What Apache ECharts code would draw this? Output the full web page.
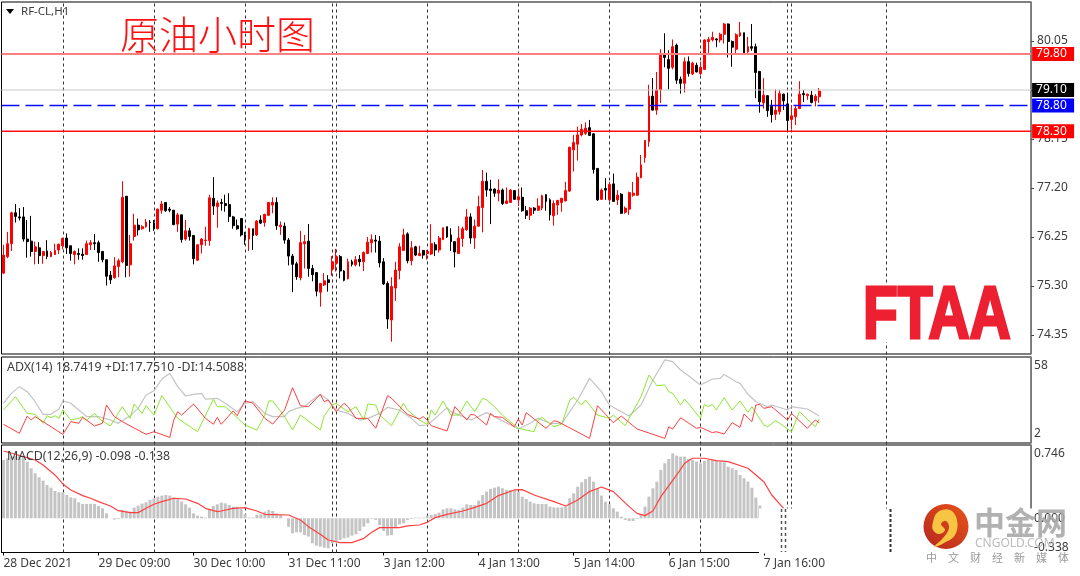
<!DOCTYPE html>
<html><head><meta charset="utf-8">
<style>html,body{margin:0;padding:0;background:#fff}#c{width:1080px;height:576px}</style>
<script src="https://cdn.jsdelivr.net/npm/echarts@6/dist/echarts.min.js"></script>
</head><body><div id="c"></div>
<script>
// each row: [open, close, low, high]
const candles = [
[75.55,75.90,75.53,76.10],[75.87,76.12,75.84,76.35],[76.12,76.72,75.98,76.74],[76.72,76.65,76.53,76.89],[76.64,76.62,76.57,76.81],
[76.64,76.21,76.16,76.83],[76.21,76.16,75.85,76.58],[76.17,75.97,75.87,76.66],[75.97,76.06,75.72,76.16],[76.04,75.89,75.73,76.15],
[75.89,75.97,75.73,75.98],[75.98,75.87,75.82,76.19],[75.87,75.95,75.86,75.98],[75.91,75.99,75.90,76.12],[76.00,76.11,75.92,76.12],
[76.08,76.22,76.01,76.24],[76.23,76.04,75.92,76.32],[76.08,75.93,75.79,76.08],[75.91,75.97,75.72,75.99],[75.93,75.91,75.81,76.03],
[75.92,75.89,75.81,76.03],[75.91,76.12,75.90,76.18],[76.10,76.14,76.00,76.19],[76.14,76.12,76.00,76.31],[76.14,75.95,75.77,76.18],
[75.97,75.81,75.76,75.98],[75.81,75.49,75.31,75.81],[75.51,75.42,75.34,75.59],[75.46,75.69,75.44,75.86],[75.68,75.79,75.47,75.83],
[75.77,77.02,75.74,77.33],[77.04,75.70,75.47,77.04],[75.71,76.12,75.48,76.29],[76.26,76.48,76.18,76.70],[76.48,76.39,76.28,76.61],
[76.41,76.45,76.39,76.48],[76.45,76.54,76.43,76.60],[76.54,76.53,76.35,76.58],[76.52,76.41,76.37,76.58],[76.41,76.79,76.40,76.80],
[76.77,76.89,76.70,76.95],[76.92,76.76,76.74,76.92],[76.79,76.77,76.73,76.83],[76.77,76.49,76.48,76.77],[76.50,76.68,76.35,76.72],
[76.68,76.20,76.14,76.68],[76.21,76.37,76.18,76.58],[76.37,76.26,76.18,76.43],[76.28,75.83,75.72,76.29],[75.80,76.10,75.79,76.10],
[76.10,76.21,75.93,76.23],[76.18,76.19,76.08,76.45],[76.18,77.01,76.08,77.07],[77.00,76.85,76.68,77.41],[76.84,76.91,76.43,76.96],
[76.92,76.90,76.76,76.99],[76.90,76.86,76.74,77.07],[76.88,76.65,76.54,77.10],[76.64,76.47,76.41,76.66],[76.47,76.41,76.39,76.59],
[76.61,76.29,76.26,76.61],[76.29,76.23,76.10,76.35],[76.21,76.41,75.98,76.43],[76.41,76.28,76.00,76.41],[76.29,76.56,76.27,76.58],
[76.58,76.52,76.50,76.67],[76.53,76.69,76.45,76.70],[76.67,76.92,76.67,76.92],[76.87,76.92,76.71,77.02],[76.92,76.47,76.39,77.02],
[76.45,76.48,76.29,76.55],[76.46,76.19,76.12,76.53],[76.19,75.88,75.70,76.23],[75.88,75.72,75.18,75.92],[75.73,75.48,75.42,75.77],
[75.46,76.14,75.41,76.37],[76.12,76.16,75.64,76.29],[76.17,75.64,75.48,76.50],[75.64,75.52,75.39,75.71],[75.56,75.20,75.10,75.56],
[75.18,75.35,74.90,75.35],[75.32,75.40,75.30,75.55],[75.42,75.37,75.19,75.51],[75.63,75.77,75.50,75.88],[75.74,75.87,75.58,76.02],
[75.87,75.59,75.45,75.90],[75.59,75.41,75.39,75.61],[75.44,75.77,75.43,75.83],[75.77,75.72,75.68,75.81],[75.71,75.81,75.68,75.88],
[75.82,75.77,75.68,75.90],[75.77,75.95,75.59,75.97],[75.93,76.15,75.92,76.25],[76.14,76.20,75.95,76.30],[76.19,76.17,75.95,76.29],
[76.17,75.75,75.66,76.27],[75.77,75.34,75.32,75.84],[75.35,74.66,74.47,75.39],[74.64,75.29,74.22,75.47],[75.26,75.61,75.01,75.77],
[75.60,76.06,75.43,76.13],[75.99,76.29,75.98,76.41],[76.31,75.79,75.74,76.34],[75.79,76.04,75.70,76.17],[76.06,75.90,75.88,76.08],
[75.89,75.93,75.88,76.08],[75.99,75.90,75.83,76.00],[75.93,75.97,75.81,76.00],[75.92,76.12,75.90,76.50],[76.10,76.00,75.88,76.15],
[76.00,76.23,75.95,76.27],[76.20,76.43,76.19,76.43],[76.45,76.25,76.23,76.45],[76.29,76.16,75.98,76.42],[76.16,75.96,75.66,76.16],
[75.93,76.23,75.92,76.46],[76.22,76.41,76.06,76.45],[76.39,76.64,76.37,76.79],[76.64,76.23,76.12,76.71],[76.23,76.46,76.02,76.59],
[76.46,76.84,76.45,77.05],[76.82,77.33,76.34,77.55],[77.33,77.16,77.03,77.50],[77.18,77.15,76.50,77.36],[77.18,77.10,77.03,77.19],
[77.10,77.16,76.94,77.37],[77.16,76.90,76.87,77.19],[76.90,76.95,76.90,77.21],[76.92,77.16,76.92,77.18],[77.15,76.98,76.97,77.16],
[76.97,77.03,76.85,77.19],[77.02,76.76,76.74,77.21],[76.76,76.67,76.60,76.85],[76.67,76.81,76.58,76.83],[76.81,76.77,76.70,76.83],
[76.77,76.85,76.76,77.00],[76.81,77.05,76.77,77.07],[77.07,76.94,76.76,77.08],[76.97,76.68,76.57,77.00],[76.66,76.90,76.47,76.96],
[76.87,76.96,76.68,76.97],[76.92,77.00,76.74,77.01],[76.95,77.15,76.94,77.32],[77.14,77.99,77.13,78.00],[77.94,78.08,77.52,78.23],
[78.05,78.23,77.73,78.39],[78.23,78.34,78.20,78.44],[78.26,78.36,78.23,78.47],[78.37,78.22,78.21,78.52],[78.25,77.56,77.48,78.26],
[77.58,76.97,76.95,77.58],[76.98,77.16,76.97,77.19],[77.19,77.16,76.97,77.39],[76.97,77.27,76.94,77.32],[77.28,76.94,76.94,77.48],
[76.97,77.06,76.87,77.16],[77.08,76.71,76.70,77.10],[76.73,76.81,76.70,76.84],[76.79,77.11,76.68,77.13],[77.06,77.10,77.03,77.32],
[77.06,77.41,77.05,77.50],[77.40,77.65,77.39,77.84],[77.79,78.12,77.69,78.13],[78.10,78.98,78.00,79.20],[78.98,78.71,78.70,79.33],
[78.71,79.10,78.62,79.45],[79.10,79.81,78.85,79.89],[79.81,79.73,79.54,80.20],[79.69,79.52,79.11,79.87],[79.54,79.94,79.50,80.08],
[79.97,79.29,79.22,80.00],[79.31,79.23,79.03,79.36],[79.23,79.65,79.05,79.73],[79.65,79.42,79.36,79.75],[79.41,79.62,79.39,79.65],
[79.58,79.45,79.44,79.63],[79.42,79.54,79.39,79.65],[79.50,80.07,79.49,80.08],[80.04,80.08,79.81,80.13],[80.07,80.12,80.04,80.23],
[80.09,80.07,79.93,80.10],[80.07,80.18,80.02,80.21],[80.18,80.38,80.00,80.40],[80.38,80.04,79.73,80.39],[80.04,79.93,79.55,80.06],
[79.89,80.17,79.81,80.20],[80.15,80.21,80.13,80.42],[80.21,79.82,79.81,80.21],[79.84,79.94,79.82,80.13],[79.94,79.91,79.86,80.38],
[79.94,79.44,78.94,80.00],[79.46,78.87,78.66,79.47],[78.85,79.00,78.74,79.33],[78.99,78.70,78.58,79.00],[78.78,78.62,78.47,78.91],
[78.63,78.71,78.52,79.11],[78.68,79.03,78.62,79.10],[79.02,78.89,78.71,79.03],[78.83,78.51,78.31,79.05],[78.53,78.60,78.34,78.81],
[78.58,78.74,78.42,78.81],[78.74,79.02,78.73,79.27],[79.03,79.01,78.87,79.10],[78.99,79.02,78.91,79.03],[79.00,78.86,78.84,79.08],
[78.89,78.98,78.78,79.02],[78.97,79.08,78.85,79.14]
];
const tickLabels = ['28 Dec 2021','29 Dec 09:00','30 Dec 10:00','31 Dec 11:00','3 Jan 12:00','4 Jan 13:00','5 Jan 14:00','6 Jan 15:00','7 Jan 16:00'];
const priceTicks = [80.05,79.10,78.15,77.20,76.25,75.30,74.35];
const adxTicks = [58,2];
const macdTicks = [0.746,0,-0.338];
const separators = [15,38,61,83,84,107,130,153,176,198,199,223];
const adxLine = [[0,27.3],[2,35.5],[4,41],[6,36.9],[8,28.6],[10,18.2],[12,18.2],[14,22.6],[15,29.4],[17,27.3],[19,21.8],[21,16.3],[24,16.3],[27,13.5],[29,10.8],[32,17.1],[34,23.1],[36,34.1],[38,37.7],[40,47.3],[42,52],[44,41],[46,33.3],[48,34.7],[50,35.5],[51,30.8],[54,31.4],[56,27.3],[59,20.4],[61,27.3],[63,28.6],[66,19],[68,16.3],[71,16.3],[72,20.4],[74,23.1],[76,24.5],[78,30],[80,34.7],[82,30],[84,21.8],[87,19],[90,13.5],[92,14.9],[95,19],[97,24],[100,21.8],[103,14.9],[105,8.9],[107,9.4],[109,14.9],[112,23.7],[113,20.4],[116,16.3],[118,13.5],[122,19.6],[124,16.3],[128,9.4],[130,6.1],[133,10.8],[135,14.9],[138,10.8],[141,10.8],[145,30],[148,47.8],[151,36.9],[153,25.9],[156,20.4],[158,16.8],[161,25.9],[164,46.5],[167,63],[169,61.6],[171,54.7],[173,50],[176,42.4],[179,47.3],[181,47.8],[182,51.1],[185,45.1],[186,43.7],[188,34.7],[190,28.6],[193,24.5],[194,25.9],[198,21.8],[199,24.5],[203,22.6],[206,16.8]];
const plusDI = [[0,21.8],[3,32.7],[6,19],[8,18.2],[10,10.8],[11,17.1],[12,15.4],[13,17.1],[14,14.9],[15,21.8],[17,13.5],[19,14.9],[20,16.3],[21,13.5],[23,19],[24,14.9],[27,8.6],[30,24.5],[32,14.9],[33,26.7],[35,19],[36,25.3],[38,17.6],[40,33.6],[44,14.9],[49,3.9],[53,30.6],[54,24.5],[56,24.5],[61,9.4],[64,5.3],[66,17.6],[67,29.2],[68,29.2],[71,16.3],[73,5.3],[75,17.6],[80,5.3],[81,17.1],[83,25.9],[84,27.3],[87,20.4],[89,24.5],[91,13.5],[92,26.7],[94,25.9],[95,17.6],[98,8.9],[101,27.3],[102,21.8],[105,13.5],[107,10],[108,21.8],[109,17.6],[111,29.2],[113,17.6],[115,17.6],[117,29.2],[119,20.4],[121,31.4],[122,30],[124,24.5],[126,17.6],[129,9.4],[130,6.7],[134,3.9],[135,13.5],[136,15.7],[139,8],[141,10.2],[143,30],[144,32.2],[146,25.9],[147,30],[150,17.6],[153,14.9],[154,17.6],[157,8.9],[161,32.7],[163,50.6],[165,41.8],[167,42.4],[168,36.9],[169,35.5],[171,25.9],[172,30.8],[176,14.9],[177,26.4],[178,24.5],[179,26.4],[180,21.8],[182,31.9],[184,21.8],[186,29.2],[188,19.8],[189,24.5],[192,9.4],[193,8],[195,13],[199,3.9],[201,20.4],[205,8],[206,14.3]];
const minusDI = [[0,10],[4,2.6],[6,16.8],[7,13.5],[8,16.3],[15,1.7],[17,12.2],[19,10.8],[20,15.7],[23,8.6],[25,10.8],[26,25.9],[28,16.3],[30,12.2],[36,1.7],[38,3.9],[42,-0.8],[43,13.5],[44,20.4],[45,17.6],[48,26.7],[51,14.9],[53,10],[54,15.7],[55,10],[58,21],[59,17.1],[61,29.4],[63,27.3],[66,14.9],[68,10.2],[71,21.8],[73,40.2],[75,25.3],[77,24.5],[80,34.7],[81,28.6],[82,30],[84,20.4],[86,27.3],[87,24.5],[89,14.9],[92,14.9],[94,6.7],[97,33.6],[98,31.4],[102,18.2],[105,14.3],[106,16.3],[107,13.5],[108,8.9],[112,4.5],[114,24.5],[117,13.5],[118,18.2],[119,17.6],[122,9.4],[123,19],[124,16.3],[126,15.7],[129,8],[130,14.3],[131,9.4],[132,19.6],[137,6.7],[139,13],[140,12.2],[148,-1.6],[150,25.3],[153,14.9],[154,11.3],[156,16.8],[160,6.1],[167,-1.6],[168,8],[169,6.1],[171,15.4],[175,6.7],[176,7.5],[179,3.1],[180,3.9],[182,2],[184,11.3],[186,7.5],[187,18.5],[189,12.2],[190,25.9],[191,26.4],[192,23.1],[194,24.5],[198,13.5],[199,19],[203,6.7],[205,13.5],[206,11.3]];
const macdBars = [.67,.69,.71,.717,.717,.71,.651,.575,.517,.471,.433,.383,.352,.314,.299,.299,.268,.241,.23,.184,.165,.165,.165,.165,.142,.115,.057,0,-.015,-.008,.096,.077,.077,.123,.146,.169,.184,.211,.23,.249,.261,.268,.261,.238,.218,.192,.161,.123,.057,.031,.019,.008,.096,.142,.161,.18,.172,.153,.134,.134,.107,.046,.008,.008,.038,.046,.077,.096,.084,.057,.038,0,-.096,-.172,-.161,-.161,-.192,-.211,-.287,-.314,-.326,-.337,-.345,-.287,-.261,-.249,-.23,-.222,-.199,-.184,-.146,-.096,-.057,-.008,-.019,-.077,-.146,-.199,-.192,-.115,-.069,-.057,-.019,-.008,.008,.008,.008,.031,.038,.05,.065,.103,.115,.115,.103,.096,.123,.161,.153,.153,.203,.268,.307,.337,.352,.364,.345,.326,.326,.326,.307,.249,.222,.192,.172,.165,.165,.165,.134,.126,.123,.126,.134,.23,.287,.364,.414,.452,.479,.421,.345,.261,.192,.161,.115,.077,.019,-.019,-.031,-.031,-.008,.038,.134,.249,.345,.421,.556,.632,.682,.747,.72,.709,.709,.682,.67,.651,.632,.659,.67,.67,.659,.651,.644,.594,.575,.556,.498,.46,.421,.352,.238,.146];
const macdSignal = [[0,.774],[3,.736],[5,.709],[8,.67],[10,.613],[13,.498],[15,.395],[17,.326],[20,.261],[22,.23],[24,.192],[27,.142],[29,.088],[32,.065],[34,.065],[36,.115],[38,.161],[40,.192],[43,.23],[46,.222],[49,.172],[51,.115],[54,.077],[55,.084],[58,.115],[61,.123],[64,.084],[66,.046],[72,.038],[75,-.019],[77,-.096],[80,-.184],[82,-.249],[85,-.28],[88,-.28],[91,-.23],[93,-.161],[95,-.107],[100,-.107],[102,-.088],[105,-.077],[107,-.046],[109,.008],[112,.046],[116,.084],[119,.126],[122,.172],[125,.261],[129,.326],[131,.33],[134,.268],[139,.192],[142,.142],[145,.211],[148,.307],[151,.36],[154,.307],[158,.134],[160,.057],[162,.031],[164,.084],[166,.249],[170,.498],[172,.632],[174,.69],[177,.69],[180,.663],[183,.651],[188,.575],[192,.421],[194,.268],[197,.115]];
const levels = [
 {value:79.10,color:'#c8c8c8',width:1,type:'solid',tag:'#000000'},
 {value:78.80,color:'#0a0aff',width:1.6,type:[18,6],tag:'#0000ff'},
 {value:79.80,color:'#ff8080',width:2,type:'solid',tag:'#ff0000'},
 {value:78.30,color:'#ff1010',width:1.6,type:'solid',tag:'#ff0000'}
];

const SLOTS = 260;
const categories = Array.from({length:SLOTS},(_,i)=> i%24===0 && tickLabels[i/24] ? tickLabels[i/24] : String(i));
const isTick = (i)=> i%24===0 && i/24<tickLabels.length;
const UI = 'Noto Sans, sans-serif';
const TXT = '#3c3c3c';
const L = 1.5, W = 1029.6;

function yAx(g,min,max,vals,fmt,margin,ticks){
  return {type:'value',gridIndex:g,position:'right',min,max,scale:true,splitLine:{show:false},
    axisLine:{show:true,onZero:false,lineStyle:{color:'#808080',width:1.5}},
    axisTick:ticks?{show:true,length:3,customValues:vals,lineStyle:{color:'#444'}}:{show:false},
    axisLabel:{customValues:vals,formatter:fmt,margin,color:TXT,fontFamily:UI,fontSize:12}};
}
function xAx(g,show){
  return {type:'category',gridIndex:g,data:categories,show,boundaryGap:true,
    axisLine:{onZero:false,lineStyle:{color:'#000',width:1}},
    axisTick:show?{show:true,length:3,alignWithLabel:true,interval:(i)=>isTick(i),lineStyle:{color:'#000'}}:{show:false},
    axisLabel:show?{show:true,interval:(i)=>isTick(i),align:'left',margin:5,color:TXT,fontFamily:UI,fontSize:12,hideOverlap:false}:{show:false},
    splitLine:{show:false}};
}
const frame = {show:true,borderColor:'#000',borderWidth:1,left:L,width:W};
const line = (name,data,color,x,y,w)=>({name,type:'line',xAxisIndex:x,yAxisIndex:y,data,symbol:'none',silent:true,lineStyle:{color,width:w||1},z:3});

const T = (x,y,text,size,fill,extra)=>({type:'text',z:100,x,y,style:Object.assign({text,fill,font:`${size}px ${UI}`,textVerticalAlign:'middle'},extra||{})});

// horizontal price levels: edge-to-edge line series on a hidden two-slot axis of the price pane
const levelSeries = levels.map(l=>({
  name:'level '+l.value.toFixed(2),type:'line',xAxisIndex:4,yAxisIndex:0,data:[l.value,l.value],symbol:'none',silent:true,z:5,
  lineStyle:{color:l.color,width:l.width,type:l.type},itemStyle:{color:l.color},
  endLabel:{show:true,distance:1,formatter:()=>l.value.toFixed(2),color:'#fff',backgroundColor:l.tag,
    fontFamily:UI,fontSize:12,width:38,height:14,lineHeight:14,align:'left',padding:[0,0,0,4]}
}));

const chart = echarts.init(document.getElementById('c'),null,{renderer:'canvas'});
chart.setOption({
  animation:false,
  backgroundColor:'#fff',
  grid:[
    Object.assign({top:2,height:352},frame),
    Object.assign({top:357,height:86},frame),
    Object.assign({top:445,height:107.5},frame),
    {left:L,width:W,top:2,height:550.5,show:false}
  ],
  xAxis:[xAx(0,false),xAx(1,false),xAx(2,true),xAx(3,false),
    {type:'category',gridIndex:0,show:false,boundaryGap:false,data:['left','right']}],
  yAxis:[
    yAx(0,73.982,80.806,priceTicks,v=>v.toFixed(2),6,true),
    yAx(1,-5.41,65.43,adxTicks,v=>String(v),3,false),
    yAx(2,-0.393,0.8425,macdTicks,v=>v.toFixed(3),3,false),
    {type:'value',gridIndex:3,show:false,min:0,max:1}
  ],
  series:[
    {name:'separators',type:'line',xAxisIndex:3,yAxisIndex:3,data:[[0,0.5]],symbol:'none',lineStyle:{opacity:0},z:1,
      markLine:{silent:true,symbol:'none',label:{show:false},animation:false,z:1,
        lineStyle:{color:'#333',type:[3,3],width:1},
        data:separators.map(v=>({xAxis:v}))}},
    {name:'RF-CL',type:'candlestick',xAxisIndex:0,yAxisIndex:0,data:candles,barWidth:2.4,z:3,
      itemStyle:{color:'#ff0000',color0:'#000000',borderColor:'#ff0000',borderColor0:'#000000',borderWidth:1}},
    ...levelSeries,
    line('ADX',adxLine,'#c4c4c4',1,1,1.2),
    line('+DI',plusDI,'#8ce832',1,1),
    line('-DI',minusDI,'#ff4040',1,1),
    {name:'MACD',type:'bar',xAxisIndex:2,yAxisIndex:2,data:macdBars,barWidth:3,itemStyle:{color:'#c4c4c4'},z:2,silent:true},
    line('Signal',macdSignal,'#ff4040',2,2,1.2)
  ],
  graphic:[
    {type:'polygon',z:100,shape:{points:[[6,9],[14,9],[10,14]]},style:{fill:'#000'}},
    T(21,12,'RF-CL,H1',12,TXT,{font:`11.5px ${UI}`}),
    T(120,34,'原油小时图',39,'#ff1010',{font:'300 39px "Noto Sans CJK SC", sans-serif'}),
    T(7,367,'ADX(14) 18.7419 +DI:17.7510 -DI:14.5088',12.4,TXT),
    T(7,456,'MACD(12,26,9) -0.098 -0.138',12.4,TXT),
    {type:'rect',z:99,shape:{x:862,y:284,width:155,height:58},style:{fill:'#fff'}},
    {type:'text',z:100,x:863,y:317,scaleX:0.76,style:{text:'FTAA',fill:'#ec2030',stroke:'#ec2030',lineWidth:3,font:'bold 75px "Liberation Sans", sans-serif',textVerticalAlign:'middle'}},
    {type:'rect',z:90,shape:{x:759,y:508.5,width:274,height:45},style:{fill:'#fff'}},
    {type:'line',z:91,shape:{x1:781.5,y1:509,x2:781.5,y2:552},style:{stroke:'#555',lineWidth:1.5,lineDash:[3,3]}},
    {type:'line',z:91,shape:{x1:785.5,y1:509,x2:785.5,y2:552},style:{stroke:'#555',lineWidth:1.5,lineDash:[3,3]}},
    {type:'line',z:91,shape:{x1:890.5,y1:509,x2:890.5,y2:552},style:{stroke:'#333',lineWidth:2,lineDash:[3,2]}},
    {type:'circle',z:100,shape:{cx:946,cy:526.5,r:22.5},style:{fill:{type:'linear',x:1,y:0,x2:0,y2:1,colorStops:[{offset:0,color:'#e8551a'},{offset:1,color:'#b5261e'}]}}},
    {type:'polygon',z:101,shape:{smooth:0.4,points:[[933,522],[938,512],[950,510],[957,520],[955,535],[944,543],[934,547],[943,538],[949,528],[946,521],[941,524],[945,530],[939,534],[933,530]]},style:{fill:'#f6c544'}},
    T(974,522,'中金网',31,'#a8a8a8',{font:'bold 31px "Noto Sans CJK SC", sans-serif',opacity:0.9}),
    T(975,544,'CNGOLD.COM',12,'#b4b4b4',{font:`12px ${UI}`,opacity:0.9}),
    T(926,558,'中　文　财　经　新　媒　体',11,'#9a9a9a',{font:'11px "Noto Sans CJK SC", sans-serif'})
  ]
});
</script></body></html>
